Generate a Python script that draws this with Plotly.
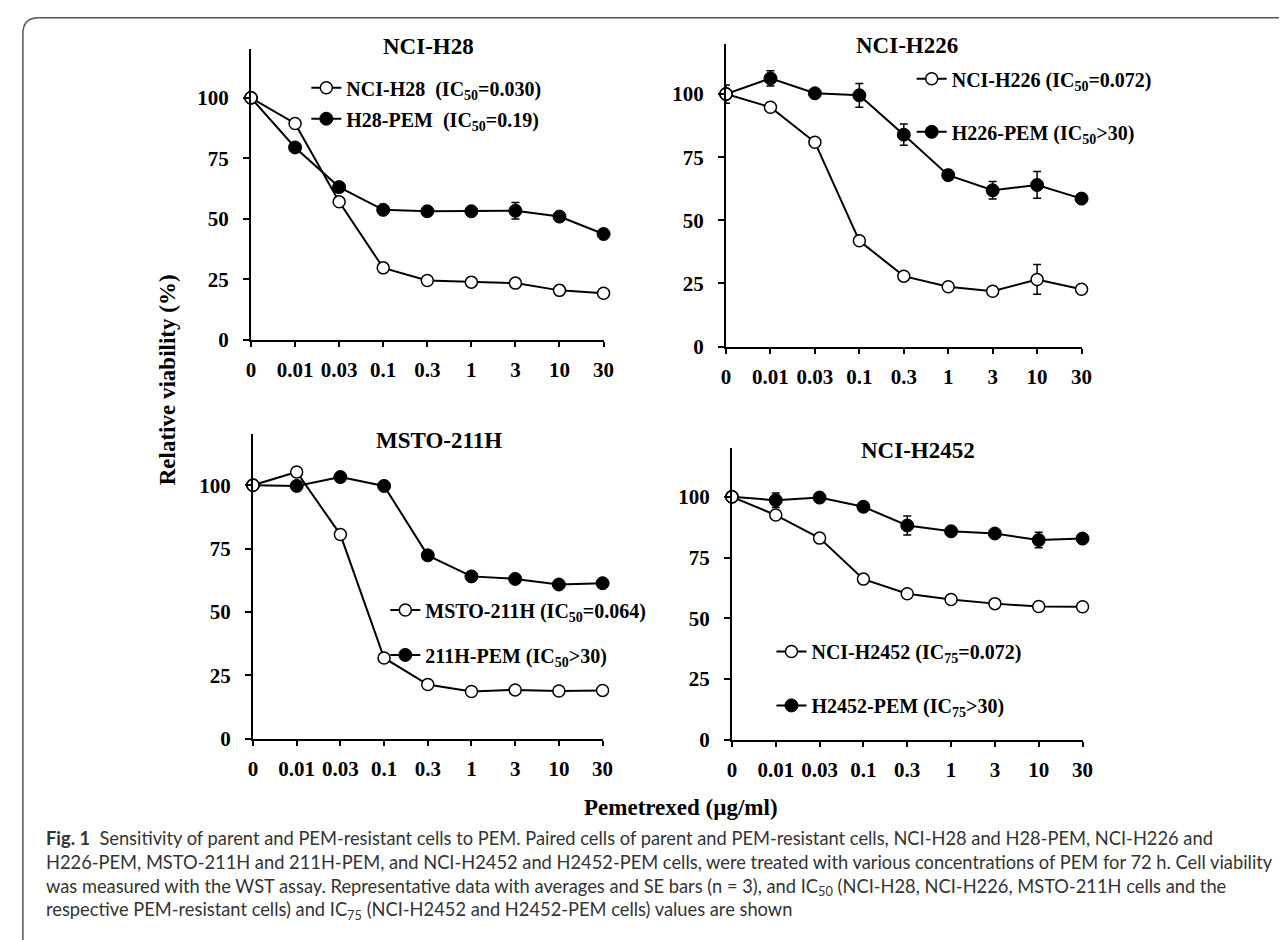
import plotly.graph_objects as go

W, H = 1287, 940

concentrations = ["0", "0.01", "0.03", "0.1", "0.3", "1", "3", "10", "30"]
y_ticks = [0, 25, 50, 75, 100]

panel_titles = ["NCI-H28", "NCI-H226", "MSTO-211H", "NCI-H2452"]

h28_parent = [100, 89.4, 57.0, 29.7, 24.5, 23.8, 23.4, 20.4, 19.2]
h28_parent_se = [1.0, 1.2, 1.5, 1.2, 1.0, 0.8, 1.0, 1.0, 0.8]
h28_pem = [100, 79.5, 63.1, 53.7, 53.1, 53.1, 53.3, 50.9, 43.7]
h28_pem_se = [1.5, 1.5, 1.5, 1.5, 1.2, 1.0, 3.4, 1.5, 1.2]

h226_parent = [100, 94.8, 80.9, 41.9, 27.9, 23.7, 21.9, 26.6, 22.7]
h226_parent_se = [1.5, 1.0, 1.0, 1.5, 1.0, 1.0, 1.0, 5.9, 1.0]
h226_pem = [100, 106.2, 100.3, 99.5, 83.9, 67.9, 61.9, 64.0, 58.6]
h226_pem_se = [3.6, 3.0, 1.5, 4.7, 4.2, 2.0, 3.5, 5.3, 1.5]

msto_parent = [100, 105.2, 80.5, 31.8, 21.3, 18.6, 19.2, 18.8, 19.0]
msto_parent_se = [1.0, 1.5, 1.5, 1.2, 1.0, 0.8, 0.8, 0.8, 0.8]
msto_pem = [100, 99.7, 103.2, 99.7, 72.3, 64.0, 63.0, 60.8, 61.3]
msto_pem_se = [1.0, 1.0, 1.5, 1.5, 1.5, 1.2, 1.2, 1.0, 1.0]

h2452_parent = [100, 92.5, 83.0, 66.1, 60.1, 57.7, 56.0, 54.8, 54.7]
h2452_parent_se = [1.0, 1.5, 1.2, 1.2, 1.0, 1.0, 0.8, 0.8, 0.8]
h2452_pem = [100, 98.6, 99.7, 95.9, 88.2, 85.8, 84.9, 82.2, 82.8]
h2452_pem_se = [1.5, 3.0, 1.5, 1.5, 3.9, 1.5, 1.5, 3.2, 1.5]

legend_names = [
    ["NCI-H28\u00a0\u00a0(IC<sub>50</sub>=0.030)", "H28-PEM\u00a0\u00a0(IC<sub>50</sub>=0.19)"],
    ["NCI-H226 (IC<sub>50</sub>=0.072)", "H226-PEM (IC<sub>50</sub>&gt;30)"],
    ["MSTO-211H (IC<sub>50</sub>=0.064)", "211H-PEM (IC<sub>50</sub>&gt;30)"],
    ["NCI-H2452 (IC<sub>75</sub>=0.072)", "H2452-PEM (IC<sub>75</sub>&gt;30)"],
]

caption_lines = [
    "<b>Fig. 1</b>\u00a0\u00a0Sensitivity of parent and PEM-resistant cells to PEM. Paired cells of parent and PEM-resistant cells, NCI-H28 and H28-PEM, NCI-H226 and",
    "H226-PEM, MSTO-211H and 211H-PEM, and NCI-H2452 and H2452-PEM cells, were treated with various concentrations of PEM for 72 h. Cell viability",
    "was measured with the WST assay. Representative data with averages and SE bars (n = 3), and IC<sub>50</sub> (NCI-H28, NCI-H226, MSTO-211H cells and the",
    "respective PEM-resistant cells) and IC<sub>75</sub> (NCI-H2452 and H2452-PEM cells) values are shown",
]

series = [
    (h28_parent, h28_parent_se, h28_pem, h28_pem_se),
    (h226_parent, h226_parent_se, h226_pem, h226_pem_se),
    (msto_parent, msto_parent_se, msto_pem, msto_pem_se),
    (h2452_parent, h2452_parent_se, h2452_pem, h2452_pem_se),
]

# layout in pixels: (x0, x1, ytop, ybottom)
panel_px = [(241, 598, 42, 336), (722, 1082, 36, 343), (243, 597, 432, 740), (728, 1083, 446, 741)]
title_px = [(421, 39), (905, 38), (431, 438), (916, 448)]
legend_px = [(297, 82, 2), (910, 73, 24), (377, 611, 16), (768, 653, 25)]

SERIF = "Liberation Serif"

def px_x(v):
    return v / W

def px_y(v):
    return 1 - v / H

fig = go.Figure()
axis_common = dict(showline=True, linecolor="black", linewidth=2, ticks="outside",
                   tickcolor="black", tickwidth=2, showgrid=False, zeroline=False,
                   tickfont=dict(family=SERIF, size=21, color="black", weight="bold"))

layout = dict(width=W, height=H, margin=dict(l=0, r=0, t=0, b=0),
              paper_bgcolor="white", plot_bgcolor="white", showlegend=True)

annotations = []
for i, (par, par_se, pem, pem_se) in enumerate(series):
    n = "" if i == 0 else str(i + 1)
    x0, x1, yt, yb = panel_px[i]
    layout["xaxis" + n] = dict(axis_common, domain=[px_x(x0), px_x(x1)], anchor="y" + n,
                               type="category", categoryorder="array", categoryarray=concentrations,
                               range=[0, len(concentrations) - 1], ticklen=5, ticklabelstandoff=5)
    layout["yaxis" + n] = dict(axis_common, domain=[px_y(yb), px_y(yt)], anchor="x" + n,
                               range=[0, 120], tickvals=y_ticks, ticklen=6, ticklabelstandoff=10)
    lg = "legend" + n
    lx, ly, gap = legend_px[i]
    layout[lg] = dict(x=px_x(lx), y=px_y(ly - 21), xanchor="left", yanchor="top",
                      bgcolor="rgba(0,0,0,0)", borderwidth=0, tracegroupgap=gap,
                      itemwidth=30,
                      font=dict(family=SERIF, size=20, color="black", weight="bold"))
    fig.add_trace(go.Scatter(x=concentrations, y=pem, mode="lines+markers", name=legend_names[i][1],
                             xaxis="x" + n, yaxis="y" + n, legend=lg, legendgroup=f"g{i}b", legendrank=2,
                             line=dict(color="black", width=2), cliponaxis=False,
                             marker=dict(size=13, color="black", line=dict(color="black", width=1)),
                             error_y=dict(type="data", array=pem_se, color="black", thickness=1.5, width=4)))
    fig.add_trace(go.Scatter(x=concentrations, y=par, mode="lines+markers", name=legend_names[i][0],
                             xaxis="x" + n, yaxis="y" + n, legend=lg, legendgroup=f"g{i}a", legendrank=1,
                             line=dict(color="black", width=2), cliponaxis=False,
                             marker=dict(size=12, color="white", line=dict(color="black", width=1.5)),
                             error_y=dict(type="data", array=par_se, color="black", thickness=1.5, width=4)))
    tx, ty = title_px[i]
    annotations.append(dict(text=panel_titles[i], x=px_x(tx), y=px_y(ty), xref="paper", yref="paper",
                            showarrow=False, xanchor="center", yanchor="middle",
                            font=dict(family=SERIF, size=23, color="black", weight="bold")))

annotations.append(dict(text="Relative viability (%)", x=px_x(156), y=px_y(377), xref="paper", yref="paper",
                        showarrow=False, textangle=-90, xanchor="center", yanchor="middle",
                        font=dict(family=SERIF, size=23, color="black", weight="bold")))
annotations.append(dict(text="Pemetrexed (µg/ml)", x=px_x(676), y=px_y(810), xref="paper", yref="paper",
                        showarrow=False, xanchor="center", yanchor="middle",
                        font=dict(family=SERIF, size=23, color="black", weight="bold")))

annotations.append(dict(text="<br>".join(caption_lines), x=px_x(31), y=px_y(878), xref="paper", yref="paper",
                        showarrow=False, xanchor="left", yanchor="middle", align="left",
                        font=dict(family="Lato", size=18.3, color="#333333")))

layout["annotations"] = annotations

# outer rounded frame
r = 16
bx, by = 10, 10
path = (f"M {px_x(bx)},{px_y(H + 20)} L {px_x(bx)},{px_y(by + r)} "
        f"Q {px_x(bx)},{px_y(by)} {px_x(bx + r)},{px_y(by)} L {px_x(W + 20)},{px_y(by)}")
layout["shapes"] = [dict(type="path", xref="paper", yref="paper", path=path,
                         line=dict(color="#555555", width=1.5))]

fig.update_layout(**layout)
fig.write_html("out.html")
